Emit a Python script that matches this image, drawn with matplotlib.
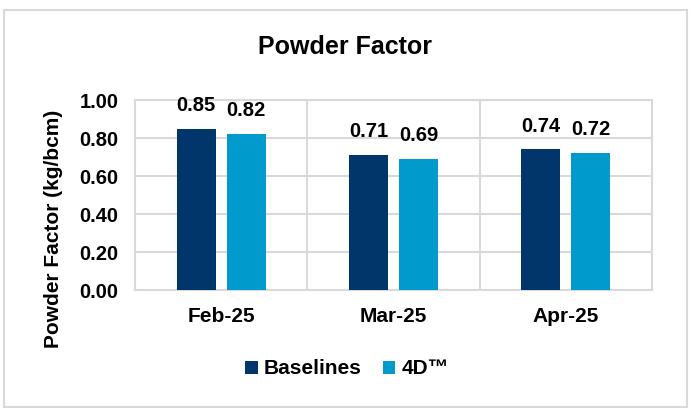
import matplotlib.pyplot as plt
import numpy as np
from matplotlib.patches import Rectangle

plt.rcParams['font.family'] = ['Liberation Sans', 'DejaVu Sans']
plt.rcParams['font.weight'] = 'bold'

months = ["Feb-25", "Mar-25", "Apr-25"]
baselines = [0.85, 0.71, 0.74]
four_d = [0.82, 0.69, 0.72]
series_names = ["Baselines", "4D\u2122"]
yticks = [0.0, 0.2, 0.4, 0.6, 0.8, 1.0]

dark = "#00366A"
light = "#009ACD"
grid = "#D9D9D9"

fig = plt.figure(figsize=(6.93, 4.17), dpi=100)
ax = fig.add_axes([135 / 693, 1 - 290 / 417, 517 / 693, 190 / 417])

x = np.arange(len(months))
w = 0.227
off = 0.145
b1 = ax.bar(x - off, baselines, w, color=dark, label=series_names[0], zorder=3)
b2 = ax.bar(x + off, four_d, w, color=light, label=series_names[1], zorder=3)

for bars, vals in ((b1, baselines), (b2, four_d)):
    for r, v in zip(bars, vals):
        ax.annotate("%.2f" % v, (r.get_x() + r.get_width() / 2, v),
                    xytext=(0, 10), textcoords="offset points",
                    ha="center", va="bottom", fontsize=14.5, fontweight="bold")

ax.set_xlim(-0.5, 2.5)
ax.set_ylim(0, 1.0)
ax.set_yticks(yticks)
ax.set_yticklabels(["%.2f" % t for t in yticks])
ax.set_xticks(x)
ax.set_xticklabels(months)
ax.set_xticks([0.5, 1.5], minor=True)
ax.grid(axis="y", color=grid, linewidth=1.5, zorder=0)
ax.grid(axis="x", which="minor", color=grid, linewidth=1.5, zorder=0)
ax.tick_params(axis="both", which="both", length=0)
ax.tick_params(axis="y", labelsize=14.5, pad=12)
ax.tick_params(axis="x", labelsize=15, pad=12)
for s in ax.spines.values():
    s.set_color(grid)
    s.set_linewidth(1.5)

ax.set_ylabel("Powder Factor (kg/bcm)", fontsize=15, fontweight="bold")
ax.yaxis.set_label_coords(-0.139, 0.5 - 34 / 190)
fig.text(345 / 693, 1 - 47 / 417, "Powder Factor", ha="center", va="center",
         fontsize=18, fontweight="bold")

fig.legend(handles=[b1, b2], loc="center", bbox_to_anchor=(347 / 693, 1 - 369 / 417),
           ncol=2, frameon=False, fontsize=15, handlelength=0.6, handleheight=0.6,
           handletextpad=0.3, columnspacing=1.0)

fig.patches.append(Rectangle((4 / 693, 1 - 407 / 417), 683 / 693, 397 / 417,
                             transform=fig.transFigure, fill=False,
                             edgecolor=grid, linewidth=1.5))

fig.savefig("out.png", dpi=100)
